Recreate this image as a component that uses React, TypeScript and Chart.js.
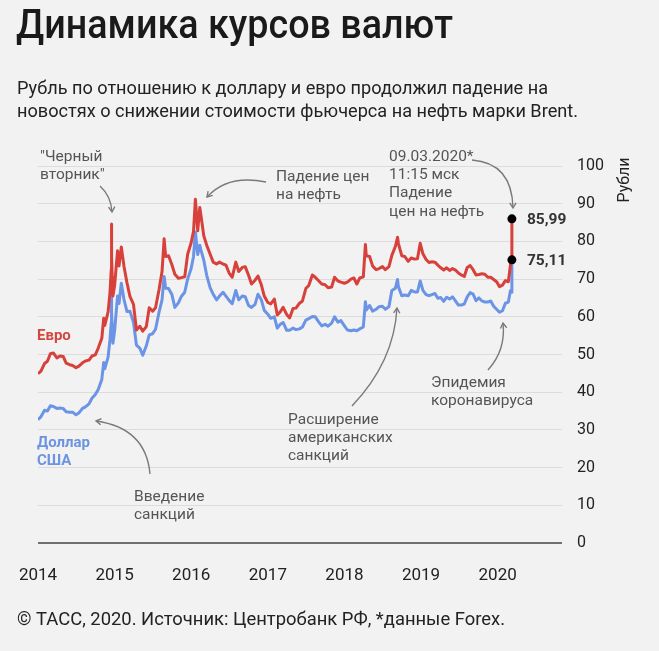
import React, { useEffect, useRef } from "react";
import { Chart, registerables } from "chart.js";
Chart.register(...registerables);

// Dates of observations (semi-monthly plus notable days)
const dates: string[] = [
  "2014-01-01","2014-01-15","2014-02-01","2014-02-15","2014-03-01","2014-03-15","2014-04-01","2014-04-15","2014-05-01","2014-05-15","2014-06-01","2014-06-15","2014-07-01","2014-07-15","2014-08-01","2014-08-15","2014-09-01","2014-09-15","2014-10-01","2014-10-15","2014-11-01","2014-11-10","2014-11-15","2014-12-01","2014-12-10","2014-12-16","2014-12-17","2014-12-18","2014-12-24",
  "2015-01-01","2015-01-15","2015-01-22","2015-02-02","2015-02-15","2015-03-01","2015-03-15","2015-04-01","2015-04-15","2015-05-01","2015-05-15","2015-06-01","2015-06-15","2015-07-01","2015-07-15","2015-08-01","2015-08-15","2015-08-25","2015-09-01","2015-09-15","2015-10-01","2015-10-15","2015-11-01","2015-11-15","2015-12-01","2015-12-15",
  "2016-01-01","2016-01-12","2016-01-21","2016-02-01","2016-02-11","2016-02-15","2016-03-01","2016-03-15","2016-04-01","2016-04-15","2016-05-01","2016-05-15","2016-06-01","2016-06-15","2016-07-01","2016-07-15","2016-08-01","2016-08-15","2016-09-01","2016-09-15","2016-10-01","2016-10-15","2016-11-01","2016-11-15","2016-12-01","2016-12-15",
  "2017-01-01","2017-01-15","2017-02-01","2017-02-15","2017-03-01","2017-03-15","2017-04-01","2017-04-15","2017-05-01","2017-05-15","2017-06-01","2017-06-15","2017-07-01","2017-07-15","2017-08-01","2017-08-15","2017-09-01","2017-09-15","2017-10-01","2017-10-15","2017-11-01","2017-11-15","2017-12-01","2017-12-15",
  "2018-01-01","2018-01-15","2018-02-01","2018-02-15","2018-03-01","2018-03-15","2018-04-01","2018-04-11","2018-04-15","2018-05-01","2018-05-15","2018-06-01","2018-06-15","2018-07-01","2018-07-15","2018-08-01","2018-08-15","2018-09-01","2018-09-11","2018-09-15","2018-10-01","2018-10-15","2018-11-01","2018-11-15","2018-12-01","2018-12-15","2018-12-28",
  "2019-01-10","2019-01-25","2019-02-08","2019-02-22","2019-03-08","2019-03-22","2019-04-05","2019-04-19","2019-05-03","2019-05-17","2019-05-31","2019-06-14","2019-06-28","2019-07-12","2019-07-26","2019-08-09","2019-08-23","2019-09-06","2019-09-20","2019-10-04","2019-10-18","2019-11-01","2019-11-15","2019-11-29","2019-12-13","2019-12-27",
  "2020-01-10","2020-01-24","2020-02-07","2020-02-21","2020-03-02","2020-03-06","2020-03-09",
];

// US dollar, roubles
const usd: number[] = [
  32.7,33.5,35.2,35.0,36.4,36.2,35.7,35.8,35.7,34.8,34.7,34.7,34.0,34.5,35.7,36.1,36.9,38.4,39.4,40.7,43.4,47.9,46.2,49.3,54.0,58.4,67.8,61.2,53.0,
  56.3,65.5,63.5,68.9,64.5,61.4,61.5,58.5,52.5,51.7,49.8,52.3,55.2,55.5,56.7,61.3,64.5,70.7,67.6,67.5,65.9,62.5,63.7,65.4,66.5,70.0,
  72.9,76.0,82.5,76.5,79.0,78.0,75.0,71.0,67.6,66.0,64.5,65.5,66.5,65.5,64.3,63.5,67.0,64.5,65.5,65.3,63.0,62.5,63.3,66.0,64.5,61.7,
  60.7,59.6,60.0,57.0,58.0,58.5,56.4,56.4,57.0,56.6,56.8,57.3,59.1,59.5,60.1,60.0,58.6,57.6,58.0,57.5,58.3,60.0,58.6,59.0,
  57.6,56.5,56.3,56.5,56.3,56.8,57.3,64.0,61.8,63.0,61.5,62.0,62.7,62.8,62.0,62.7,67.0,67.6,69.9,68.0,65.6,65.8,65.6,67.0,66.6,66.6,69.5,
  67.0,65.9,65.6,65.9,66.2,64.9,65.1,64.1,65.2,64.7,65.3,64.2,63.1,63.1,63.4,65.3,66.4,66.0,64.3,65.0,64.2,63.9,63.9,64.2,62.8,62.0,
  61.2,61.6,63.6,63.9,66.9,66.5,75.11,
];

// Euro, roubles
const eur: number[] = [
  44.9,45.6,47.6,48.2,50.2,50.4,49.1,49.6,49.5,47.7,47.3,47.1,46.5,46.9,47.8,48.3,48.5,49.6,49.9,51.7,54.3,59.6,57.7,61.3,66.5,72.6,84.6,75.9,65.5,
  68.3,77.5,73.5,78.5,73.3,69.0,65.4,63.3,56.5,57.5,56.2,57.4,62.4,61.5,62.4,67.3,72.0,80.7,76.0,76.2,73.8,71.3,70.2,70.4,70.6,76.6,
  79.7,82.7,91.2,82.8,89.0,87.5,81.5,79.0,76.5,74.5,74.0,74.5,74.0,73.7,71.5,70.5,74.5,72.0,73.1,73.3,71.0,68.7,69.7,70.8,68.5,65.5,
  63.8,63.4,64.7,60.5,61.3,62.5,60.6,59.7,62.2,62.3,63.6,64.2,67.5,68.3,71.1,70.5,69.5,68.7,68.5,67.7,67.9,70.5,69.5,69.2,
  68.9,69.2,70.0,70.3,68.7,70.3,70.6,79.2,76.2,76.0,73.5,72.5,72.8,73.3,72.5,73.3,76.3,78.7,81.1,79.5,76.2,76.0,74.7,75.6,75.3,75.4,79.5,
  76.7,75.2,74.4,74.6,74.5,73.7,73.0,72.4,73.0,72.3,72.8,72.4,71.6,71.1,70.7,73.1,73.6,72.5,71.1,71.2,71.4,71.3,70.5,70.5,69.9,69.3,
  68.0,68.4,69.6,69.3,73.7,74.8,85.99,
];

const yearTicks: number[] = [2014, 2015, 2016, 2017, 2018, 2019, 2020];
const yTicks: number[] = [0, 10, 20, 30, 40, 50, 60, 70, 80, 90, 100];

const RED = "#d8413b";
const BLUE = "#6b94e6";
const FONT = "Roboto, 'Noto Sans', sans-serif";

function toYear(s: string): number {
  const [y, m, d] = s.split("-").map(Number);
  const start = Date.UTC(y, 0, 1);
  const end = Date.UTC(y + 1, 0, 1);
  return y + (Date.UTC(y, m - 1, d) - start) / (end - start);
}

function fitText(ctx: CanvasRenderingContext2D, text: string, x: number, y: number, w: number) {
  const m = ctx.measureText(text).width;
  const s = w / m;
  ctx.save();
  ctx.translate(x, y);
  ctx.scale(s, 1);
  ctx.fillText(text, 0, 0);
  ctx.restore();
}

function lines(ctx: CanvasRenderingContext2D, arr: string[], x: number, y: number, lh: number) {
  arr.forEach((t, i) => ctx.fillText(t, x, y + i * lh));
}

function arrow(ctx: CanvasRenderingContext2D, x0: number, y0: number, cx: number, cy: number, x1: number, y1: number) {
  ctx.save();
  ctx.strokeStyle = "#7a7a7a";
  ctx.lineWidth = 1.4;
  ctx.beginPath();
  ctx.moveTo(x0, y0);
  ctx.quadraticCurveTo(cx, cy, x1, y1);
  ctx.stroke();
  const a = Math.atan2(y1 - cy, x1 - cx);
  const L = 6;
  ctx.beginPath();
  ctx.moveTo(x1 - L * Math.cos(a - 0.55), y1 - L * Math.sin(a - 0.55));
  ctx.lineTo(x1, y1);
  ctx.lineTo(x1 - L * Math.cos(a + 0.55), y1 - L * Math.sin(a + 0.55));
  ctx.stroke();
  ctx.restore();
}

const decorPlugin = {
  id: "decor",
  beforeDraw(chart: any) {
    const ctx = chart.ctx as CanvasRenderingContext2D;
    ctx.save();
    ctx.fillStyle = "#f2f2f2";
    ctx.fillRect(0, 0, chart.width, chart.height);
    ctx.restore();
  },
  afterDraw(chart: any) {
    const ctx = chart.ctx as CanvasRenderingContext2D;
    const xs = chart.scales.x;
    const ys = chart.scales.y;
    ctx.save();
    ctx.textAlign = "left";
    ctx.textBaseline = "alphabetic";
    // Title
    ctx.fillStyle = "#1a1a1a";
    ctx.font = `500 40px ${FONT}`;
    fitText(ctx, "Динамика курсов валют", 16, 38, 437);
    // Subtitle
    ctx.fillStyle = "#222";
    ctx.font = `18px ${FONT}`;
    fitText(ctx, "Рубль по отношению к доллару и евро продолжил падение на", 17, 94, 531);
    fitText(ctx, "новостях о снижении стоимости фьючерса на нефть марки Brent.", 17, 117, 561);
    // Footer
    fitText(ctx, "© ТАСС, 2020. Источник: Центробанк РФ, *данные Forex.", 17, 625, 488);

    // Axis title
    ctx.save();
    ctx.translate(625, 180);
    ctx.rotate(-Math.PI / 2);
    ctx.textAlign = "center";
    ctx.textBaseline = "middle";
    ctx.font = `16px ${FONT}`;
    ctx.fillStyle = "#222";
    ctx.fillText("Рубли", 0, 0);
    ctx.restore();

    // Annotations
    ctx.textBaseline = "middle";
    ctx.fillStyle = "#555";
    ctx.font = `15.5px ${FONT}`;
    lines(ctx, ['"Черный', 'вторник"'], 40, 157, 18.5);
    lines(ctx, ["Падение цен", "на нефть"], 276, 177, 18);
    lines(ctx, ["09.03.2020*", "11:15 мск", "Падение", "цен на нефть"], 389, 157, 18.3);
    lines(ctx, ["Введение", "санкций"], 134, 497, 18);
    lines(ctx, ["Расширение", "американских", "санкций"], 288, 420, 18.3);
    lines(ctx, ["Эпидемия", "коронавируса"], 431, 383, 18.5);

    arrow(ctx, 100, 186, 111, 196, 112, 212);
    arrow(ctx, 266, 182, 228, 174, 207, 197);
    arrow(ctx, 472, 160, 512, 163, 513, 208);
    arrow(ctx, 150, 474, 146, 428, 96, 421);
    arrow(ctx, 352, 406, 394, 362, 397, 308);
    arrow(ctx, 488, 370, 506, 350, 503, 323);

    // Series labels
    ctx.font = `bold 15px ${FONT}`;
    ctx.fillStyle = "#d4463f";
    ctx.fillText("Евро", 37, 336);
    ctx.fillStyle = "#6c94e0";
    lines(ctx, ["Доллар", "США"], 37, 443, 18);

    // Last value labels
    const lastX = toYear(dates[dates.length - 1]);
    const px = xs.getPixelForValue(lastX);
    ctx.fillStyle = "#333";
    ctx.font = `bold 15.5px ${FONT}`;
    [eur[eur.length - 1], usd[usd.length - 1]].forEach((v) => {
      ctx.fillText(v.toFixed(2).replace(".", ","), px + 15, ys.getPixelForValue(v) + 1);
    });
    ctx.restore();
  },
};

export default function App() {
  const ref = useRef<HTMLCanvasElement>(null);
  useEffect(() => {
    document.body.style.margin = "0";
    document.body.style.background = "#f2f2f2";
    const xs = dates.map(toYear);
    const eurPts = xs.map((x, i) => ({ x, y: eur[i] }));
    const usdPts = xs.map((x, i) => ({ x, y: usd[i] }));
    const lastX = xs[xs.length - 1];
    const markers = [
      { x: lastX, y: eur[eur.length - 1] },
      { x: lastX, y: usd[usd.length - 1] },
    ];
    const chart = new Chart(ref.current as HTMLCanvasElement, {
      type: "line",
      data: {
        datasets: [
          {
            label: "markers",
            data: markers,
            showLine: false,
            pointRadius: 4.5,
            pointBackgroundColor: "#000",
            pointBorderColor: "#000",
            pointBorderWidth: 0,
          } as any,
          {
            label: "Евро",
            data: eurPts,
            borderColor: RED,
            borderWidth: 3,
            pointRadius: 0,
            tension: 0,
            borderJoinStyle: "round",
          },
          {
            label: "Доллар США",
            data: usdPts,
            borderColor: BLUE,
            borderWidth: 3,
            pointRadius: 0,
            tension: 0,
            borderJoinStyle: "round",
          },
        ],
      },
      options: {
        animation: false,
        responsive: false,
        layout: { padding: { top: 166, left: 38, right: 0, bottom: 0 } },
        plugins: { legend: { display: false }, tooltip: { enabled: false } },
        scales: {
          x: {
            type: "linear",
            min: 2014,
            max: 2020.84,
            grid: { display: false },
            border: { display: false },
            afterBuildTicks: (s: any) => {
              s.ticks = yearTicks.map((v) => ({ value: v }));
            },
            afterFit: (s: any) => {
              s.height = 108;
            },
            ticks: {
              autoSkip: false,
              maxRotation: 0,
              padding: 15,
              color: "#222",
              font: { family: FONT, size: 17 },
              callback: (v: any) => String(v),
            },
          },
          y: {
            position: "right",
            min: 0,
            max: 100,
            afterBuildTicks: (s: any) => {
              s.ticks = yTicks.map((v) => ({ value: v }));
            },
            afterFit: (s: any) => {
              s.width = 97;
            },
            grid: {
              drawTicks: false,
              color: (c: any) => (c.tick && c.tick.value === 0 ? "#707070" : "#dcdcdc"),
              lineWidth: (c: any) => (c.tick && c.tick.value === 0 ? 2 : 1),
            },
            border: { display: false },
            ticks: {
              padding: 15,
              color: "#222",
              font: { family: FONT, size: 16 },
              callback: (v: any) => String(v),
            },
          },
        },
      },
      plugins: [decorPlugin],
    });
    return () => chart.destroy();
  }, []);
  return (
    <div style={{ position: "absolute", left: 0, top: 0, width: 659, height: 651, background: "#f2f2f2" }}>
      <canvas ref={ref} width={659} height={651} />
    </div>
  );
}
